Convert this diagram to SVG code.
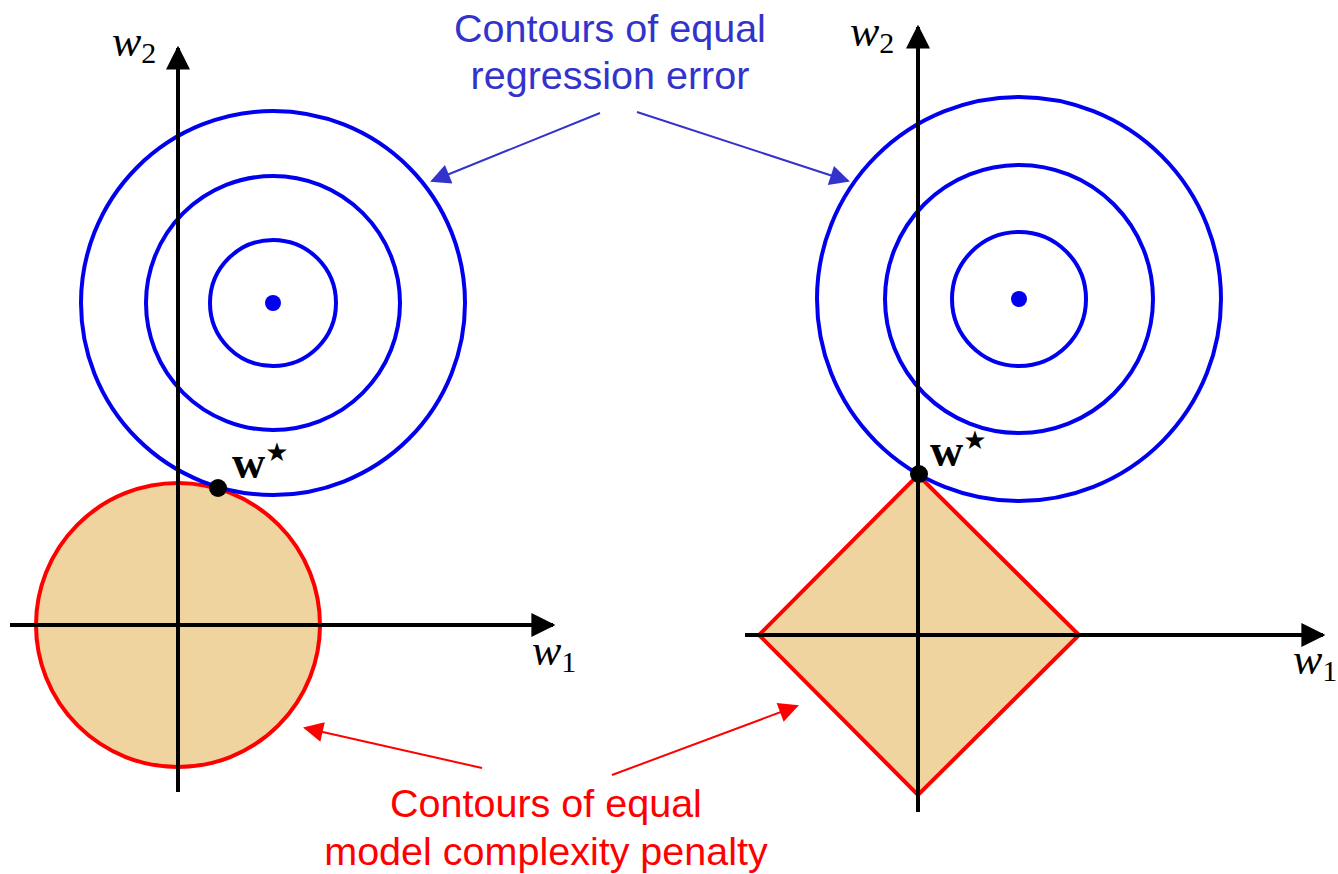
<svg xmlns="http://www.w3.org/2000/svg" width="1338" height="874" viewBox="0 0 1338 874">
<style>
.blue{fill:none;stroke:#0000ee;stroke-width:4}
.red{fill:#f0d4a0;stroke:#ff0000;stroke-width:4}
.axis{stroke:#000;stroke-width:4;fill:none}
.math{font-family:"Liberation Serif",serif;font-style:italic;font-size:44px;fill:#000}
.sub{font-size:30px;font-style:normal}
.bold{font-family:"Liberation Serif",serif;font-weight:bold;font-size:46px;fill:#000}
.star{font-family:"DejaVu Sans",sans-serif;font-size:26px;font-weight:normal}
.ann{font-family:"Liberation Sans",Arial,sans-serif;font-size:39.5px;text-anchor:middle}
</style>
<defs>
<marker id="ax" viewBox="0 0 10 10" refX="9" refY="5" markerWidth="6" markerHeight="6" markerUnits="strokeWidth" orient="auto"><path d="M0,0L10,5L0,10Z" fill="#000"/></marker>
<marker id="ab" viewBox="0 0 10 10" refX="9" refY="5" markerWidth="12" markerHeight="10" markerUnits="strokeWidth" orient="auto"><path d="M0,0L10,5L0,10Z" fill="#3333cc"/></marker>
<marker id="ar" viewBox="0 0 10 10" refX="9" refY="5" markerWidth="12" markerHeight="10" markerUnits="strokeWidth" orient="auto"><path d="M0,0L10,5L0,10Z" fill="#ff0000"/></marker>
</defs>
<g id="left-plot">
<circle class="red" cx="178" cy="625" r="142"/>
<circle class="blue" cx="273" cy="303" r="192"/>
<circle class="blue" cx="273" cy="303" r="127"/>
<circle class="blue" cx="273" cy="303" r="63"/>
<circle cx="273" cy="303" r="8" fill="#0000ee"/>
<line class="axis" x1="178" y1="792" x2="178" y2="48" marker-end="url(#ax)"/>
<line class="axis" x1="10" y1="625" x2="553" y2="625" marker-end="url(#ax)"/>
<circle cx="218" cy="488" r="9" fill="#000"/>
<text class="math" x="112" y="56">w<tspan class="sub" dy="7">2</tspan></text>
<text class="math" x="532" y="665">w<tspan class="sub" dy="7">1</tspan></text>
<text class="bold" x="232" y="478">w<tspan class="star" dy="-17">★</tspan></text>
</g>
<g id="right-plot">
<path class="red" d="M918,475L1079,635L918,795L759,635Z"/>
<circle class="blue" cx="1019" cy="299" r="202"/>
<circle class="blue" cx="1019" cy="299" r="134"/>
<circle class="blue" cx="1019" cy="299" r="67"/>
<circle cx="1019" cy="299" r="8" fill="#0000ee"/>
<line class="axis" x1="918" y1="812" x2="918" y2="27" marker-end="url(#ax)"/>
<line class="axis" x1="745" y1="635" x2="1323" y2="635" marker-end="url(#ax)"/>
<circle cx="919" cy="474" r="9" fill="#000"/>
<text class="math" x="850" y="46">w<tspan class="sub" dy="7">2</tspan></text>
<text class="math" x="1293" y="674">w<tspan class="sub" dy="7">1</tspan></text>
<text class="bold" x="930" y="466">w<tspan class="star" dy="-17">★</tspan></text>
</g>
<g id="regression-label">
<text class="ann" x="610" y="42" fill="#3333cc">Contours of equal</text>
<text class="ann" x="610" y="89" fill="#3333cc">regression error</text>
</g>
<g id="penalty-label">
<text class="ann" x="546" y="817" fill="#ff0000">Contours of equal</text>
<text class="ann" x="546" y="865" fill="#ff0000">model complexity penalty</text>
</g>
<g id="connectors">
<line x1="600" y1="113" x2="432" y2="181" stroke="#3333cc" stroke-width="2" marker-end="url(#ab)"/>
<line x1="637" y1="112" x2="848" y2="181" stroke="#3333cc" stroke-width="2" marker-end="url(#ab)"/>
<line x1="482" y1="768" x2="305" y2="728" stroke="#ff0000" stroke-width="2" marker-end="url(#ar)"/>
<line x1="612" y1="775" x2="797" y2="706" stroke="#ff0000" stroke-width="2" marker-end="url(#ar)"/>
</g>
</svg>
